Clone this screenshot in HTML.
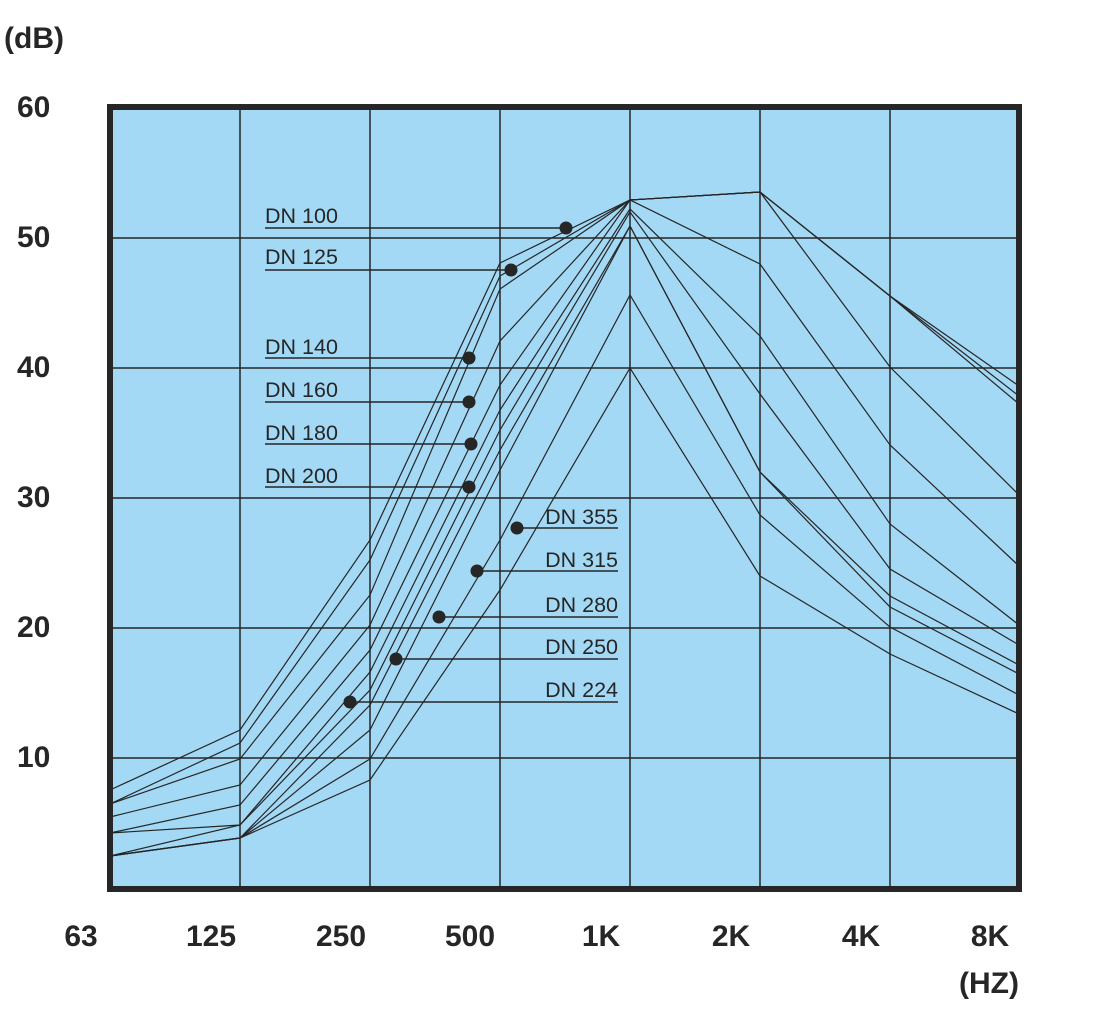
<!DOCTYPE html>
<html><head><meta charset="utf-8"><style>
html,body{margin:0;padding:0;background:#fff;}
svg{display:block;}
.ax{font-family:"Liberation Sans",sans-serif;font-weight:bold;font-size:30px;fill:#262626;}
.dn{font-family:"Liberation Sans",sans-serif;font-size:21.5px;fill:#262626;}
</style></head><body>
<svg width="1106" height="1022" viewBox="0 0 1106 1022" xmlns="http://www.w3.org/2000/svg">
<rect x="110" y="107" width="909" height="782" fill="#a3d9f5"/>
<g stroke="#262626" stroke-width="1.5" fill="none">
<line x1="240" y1="107" x2="240" y2="889"/>
<line x1="370" y1="107" x2="370" y2="889"/>
<line x1="500" y1="107" x2="500" y2="889"/>
<line x1="630" y1="107" x2="630" y2="889"/>
<line x1="760" y1="107" x2="760" y2="889"/>
<line x1="890" y1="107" x2="890" y2="889"/>
<line x1="110" y1="238" x2="1019" y2="238"/>
<line x1="110" y1="368" x2="1019" y2="368"/>
<line x1="110" y1="498" x2="1019" y2="498"/>
<line x1="110" y1="628" x2="1019" y2="628"/>
<line x1="110" y1="758" x2="1019" y2="758"/>
</g>
<g stroke="#262626" stroke-width="1.2" fill="none">
<polyline points="110,790 240,730 370,540 500,263 630,200 760,192 890,296 1019,386"/>
<polyline points="110,804 240,743 370,560 500,276 630,200 760,192 890,296 1019,396"/>
<polyline points="110,804 240,759 370,595 500,289 630,200 760,192 890,296 1019,404"/>
<polyline points="110,817 240,785 370,625 500,341 630,200 760,192 890,367 1019,495"/>
<polyline points="110,833 240,805 370,650 500,385 630,200 760,264 890,445 1019,566"/>
<polyline points="110,833 240,825 370,672 500,410 630,209 760,336 890,524 1019,625"/>
<polyline points="110,856 240,825 370,690 500,430 630,212 760,394 890,569 1019,645"/>
<polyline points="110,856 240,838 370,705 500,450 630,226 760,472 890,596 1019,665"/>
<polyline points="110,856 240,838 370,730 500,470 630,226 760,472 890,607 1019,674"/>
<polyline points="110,856 240,838 370,759 500,540 630,295 760,515 890,627 1019,695"/>
<polyline points="110,856 240,838 370,780 500,590 630,368 760,576 890,654 1019,714"/>
</g>
<rect x="110" y="107" width="909" height="782" fill="none" stroke="#262626" stroke-width="6"/>
<g stroke="#262626" stroke-width="1.5">
<line x1="265" y1="228" x2="566" y2="228"/>
<line x1="265" y1="270" x2="511" y2="270"/>
<line x1="265" y1="358" x2="469" y2="358"/>
<line x1="265" y1="402" x2="469" y2="402"/>
<line x1="265" y1="444" x2="471" y2="444"/>
<line x1="265" y1="487" x2="469" y2="487"/>
<line x1="517" y1="528" x2="618" y2="528"/>
<line x1="477" y1="571" x2="618" y2="571"/>
<line x1="439" y1="617" x2="618" y2="617"/>
<line x1="396" y1="659" x2="618" y2="659"/>
<line x1="350" y1="702" x2="618" y2="702"/>
</g>
<g fill="#262626">
<circle cx="566" cy="228" r="6.5"/><circle cx="511" cy="270" r="6.5"/>
<circle cx="469" cy="358" r="6.5"/><circle cx="469" cy="402" r="6.5"/>
<circle cx="471" cy="444" r="6.5"/><circle cx="469" cy="487" r="6.5"/>
<circle cx="517" cy="528" r="6.5"/><circle cx="477" cy="571" r="6.5"/>
<circle cx="439" cy="617" r="6.5"/><circle cx="396" cy="659" r="6.5"/>
<circle cx="350" cy="702" r="6.5"/>
</g>
<g class="dn">
<text x="265" y="223">DN 100</text>
<text x="265" y="264">DN 125</text>
<text x="265" y="354">DN 140</text>
<text x="265" y="397">DN 160</text>
<text x="265" y="440">DN 180</text>
<text x="265" y="483">DN 200</text>
<text x="618" y="524" text-anchor="end">DN 355</text>
<text x="618" y="567" text-anchor="end">DN 315</text>
<text x="618" y="612" text-anchor="end">DN 280</text>
<text x="618" y="654" text-anchor="end">DN 250</text>
<text x="618" y="697" text-anchor="end">DN 224</text>
</g>
<g class="ax">
<text x="4" y="48">(dB)</text>
<text x="17" y="117">60</text>
<text x="17" y="247">50</text>
<text x="17" y="377">40</text>
<text x="17" y="507">30</text>
<text x="17" y="637">20</text>
<text x="17" y="767">10</text>
<g text-anchor="middle">
<text x="81" y="946">63</text>
<text x="211" y="946">125</text>
<text x="341" y="946">250</text>
<text x="470" y="946">500</text>
<text x="601" y="946">1K</text>
<text x="731" y="946">2K</text>
<text x="861" y="946">4K</text>
<text x="990" y="946">8K</text>
<text x="989" y="993">(HZ)</text>
</g>
</g>
</svg>
</body></html>
